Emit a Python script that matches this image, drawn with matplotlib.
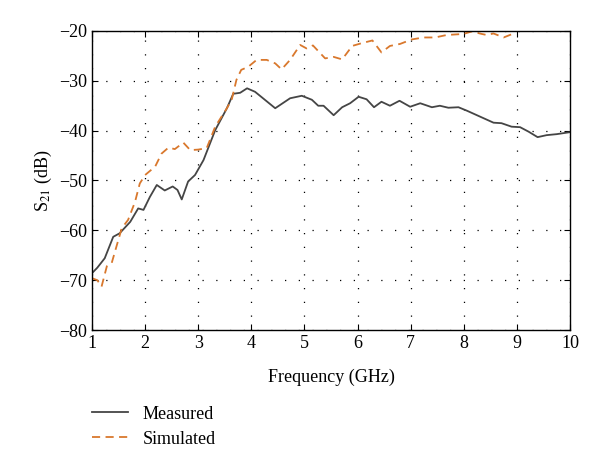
import matplotlib
matplotlib.use("Agg")
import matplotlib.pyplot as plt

# Measured S21 (GHz, dB)
meas_f = [1.00, 1.10, 1.24, 1.40, 1.52, 1.72, 1.87, 1.97, 2.09, 2.22, 2.37, 2.52, 2.61,
          2.69, 2.81, 2.94, 3.10, 3.32, 3.54, 3.66, 3.79, 3.92, 4.07, 4.22, 4.45, 4.73,
          4.95, 5.14, 5.26, 5.36, 5.55, 5.71, 5.86, 6.02, 6.17, 6.31, 6.45, 6.61, 6.79,
          6.99, 7.18, 7.40, 7.55, 7.71, 7.90, 8.06, 8.31, 8.56, 8.71, 8.90, 9.06, 9.22,
          9.39, 9.56, 9.75, 10.00]
meas_db = [-68.6, -67.5, -65.6, -61.3, -60.6, -58.3, -55.6, -55.9, -53.3, -50.9, -52.0, -51.2, -51.9,
           -53.8, -50.2, -48.9, -45.9, -39.9, -35.5, -32.6, -32.4, -31.5, -32.2, -33.5, -35.5, -33.5,
           -33.0, -33.8, -35.0, -35.0, -36.9, -35.3, -34.5, -33.2, -33.7, -35.3, -34.2, -35.0, -34.0,
           -35.2, -34.5, -35.3, -35.0, -35.4, -35.3, -36.0, -37.2, -38.4, -38.5, -39.2, -39.3, -40.2,
           -41.3, -40.9, -40.7, -40.3]

# Simulated S21 (GHz, dB)
sim_f = [1.00, 1.10, 1.18, 1.28, 1.37, 1.47, 1.56, 1.68, 1.81, 1.90, 2.00, 2.19, 2.31, 2.44,
         2.56, 2.72, 2.85, 3.00, 3.16, 3.32, 3.54, 3.63, 3.72, 3.81, 3.94, 4.10, 4.29, 4.45,
         4.57, 4.73, 4.92, 5.04, 5.16, 5.39, 5.55, 5.71, 5.90, 6.06, 6.28, 6.45, 6.61, 6.80,
         7.02, 7.24, 7.46, 7.68, 7.99, 8.15, 8.34, 8.43, 8.56, 8.75, 8.94]
sim_db = [-69.6, -70.0, -71.3, -67.2, -66.6, -62.9, -59.6, -57.9, -54.3, -50.6, -48.9, -47.2, -44.6, -43.4,
          -43.7, -42.4, -43.9, -43.8, -43.5, -39.2, -35.5, -33.8, -29.8, -27.8, -27.2, -25.8, -25.8, -26.5,
          -27.7, -25.8, -22.8, -23.5, -22.9, -25.5, -25.2, -25.7, -23.0, -22.5, -21.9, -24.3, -23.0, -22.6,
          -21.7, -21.3, -21.3, -20.8, -20.6, -20.1, -20.6, -20.8, -20.5, -21.3, -20.5]

x_ticks = [1, 2, 3, 4, 5, 6, 7, 8, 9, 10]
y_ticks = [-80, -70, -60, -50, -40, -30, -20]

plt.rcParams['font.family'] = ['Liberation Serif', 'DejaVu Serif']
plt.rcParams['mathtext.fontset'] = 'stix'

fig = plt.figure(figsize=(6.0, 4.76), dpi=100)
ax = fig.add_axes([0.1533, 0.3067, 0.7967, 0.6282])

ax.plot(meas_f, meas_db, color='#454545', lw=1.3, label='Measured')
ax.plot(sim_f, sim_db, color='#D9782D', lw=1.3, linestyle=(0, (4.5, 3)), label='Simulated')

ax.set_xlim(1, 10)
ax.set_ylim(-80, -20)
ax.set_xticks(x_ticks)
ax.set_yticks(y_ticks)
ax.set_yticklabels(['\u221280', '\u221270', '\u221260', '\u221250', '\u221240', '\u221230', '\u221220'])
ax.tick_params(direction='in', top=True, right=True, labelsize=13, length=4, width=0.8)
ax.grid(True, color='black', linestyle=(0, (1, 10)), linewidth=0.9)
for s in ax.spines.values():
    s.set_linewidth(1.0)

ax.set_xlabel('Frequency (GHz)', fontsize=13, labelpad=12)
ax.set_ylabel(r'S$_{21}$ (dB)', fontsize=13, labelpad=4)

fig.legend(loc='upper left', bbox_to_anchor=(0.153, 0.148), frameon=False,
           borderpad=0, borderaxespad=0, handlelength=2.0, handletextpad=0.8,
           labelspacing=0.45, fontsize=13)

fig.savefig('out.png', dpi=100)
